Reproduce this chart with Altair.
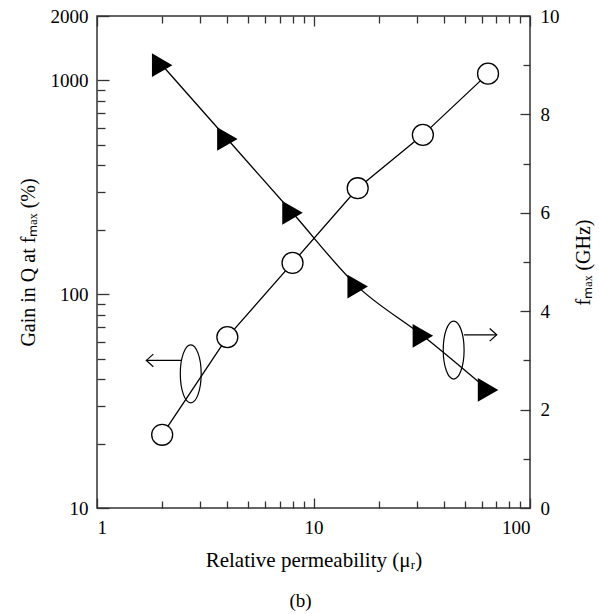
import altair as alt
import pandas as pd

# ---- data ----
mu_r = [2, 4, 8, 16, 32, 64]
gain_q = [22, 63, 140, 313, 556, 1075]          # left axis (%), open circles
f_max = [9.0, 7.5, 6.0, 4.5, 3.5, 2.4]          # right axis (GHz), filled triangles

x_major = [1, 10, 100]
x_minor = [2, 3, 4, 5, 6, 7, 8, 9, 20, 30, 40, 50, 60, 70, 80, 90]
yl_major = [10, 100, 1000, 2000]
yl_minor = [20, 30, 40, 50, 60, 70, 80, 90, 200, 300, 400, 500, 600, 700, 800, 900]
yr_major = [0, 2, 4, 6, 8, 10]
yr_minor = [1, 3, 5, 7, 9]

# annotation markers (ellipse + arrow) in data coordinates
ell_left_x, ell_left_y = [2.71], [42.4]
arr_left_x, arr_left_x2, arr_left_y = [2.46], [1.69], [49.0]
ell_right_x, ell_right_y = [44.4], [3.21]
arr_right_x, arr_right_x2, arr_right_y = [49.6], [70.2], [3.52]

FONT = "Liberation Serif"

df = pd.DataFrame({"mu": mu_r, "gain": gain_q, "fmax": f_max})

xscale = alt.Scale(type="log", domain=[1, 100])
yl_scale = alt.Scale(type="log", domain=[10, 2000])
yr_scale = alt.Scale(domain=[0, 10], nice=False)

# inward ticks: axis pulled into the plot by its own tick length
x_bottom_major = alt.Axis(
    orient="bottom", values=x_major, format="d",
    offset=-10, tickSize=10, domain=False, labelPadding=10, grid=False,
    title="Relative permeability (μᵣ)", titlePadding=12, titleFontSize=21,
)
x_bottom_minor = alt.Axis(
    orient="bottom", values=x_minor, labels=False, offset=-7, tickSize=7,
    domain=False, grid=False, title=None,
)
x_top_major = alt.Axis(
    orient="top", values=x_major, labels=False, offset=-10, tickSize=10,
    domain=False, grid=False, title=None,
)
x_top_minor = alt.Axis(
    orient="top", values=x_minor, labels=False, offset=-7, tickSize=7,
    domain=False, grid=False, title=None,
)
yl_axis_major = alt.Axis(
    orient="left", values=yl_major, format="d",
    offset=-12, tickSize=12, domain=False, labelPadding=9, grid=False,
    title="Gain in Q at fₘₐₓ (%)", titlePadding=12,
)
yl_axis_minor = alt.Axis(
    orient="left", values=yl_minor, labels=False, offset=-8, tickSize=8,
    domain=False, grid=False, title=None,
)
yr_axis_major = alt.Axis(
    orient="right", values=yr_major, format="d",
    offset=-10, tickSize=10, domain=False, labelPadding=10, grid=False,
    title="fₘₐₓ (GHz)", titleAngle=270, titlePadding=34,
)
yr_axis_minor = alt.Axis(
    orient="right", values=yr_minor, labels=False, offset=-7, tickSize=7,
    domain=False, grid=False, title=None,
)

def xx(field, axis=None):
    return alt.X(field, scale=xscale, axis=axis)

ELLIPSE = "M -0.36 0 A 0.36 1 0 1 0 0.36 0 A 0.36 1 0 1 0 -0.36 0 Z"

# ---- gain in Q (left axis) ----
gain_line = alt.Chart(df).mark_line(color="black", strokeWidth=1.3).encode(
    x=xx("mu:Q", x_bottom_major),
    y=alt.Y("gain:Q", scale=yl_scale, axis=yl_axis_major),
)
gain_pts = alt.Chart(df).mark_point(
    shape="circle", size=440, filled=True, fill="white", stroke="black",
    strokeWidth=1.3, opacity=1,
).encode(x=xx("mu:Q", x_bottom_minor),
         y=alt.Y("gain:Q", scale=yl_scale, axis=yl_axis_minor))

ell_l = alt.Chart(pd.DataFrame({"x": ell_left_x, "y": ell_left_y})).mark_point(
    shape=ELLIPSE, size=3364, filled=False, stroke="black", strokeWidth=1.2, opacity=1,
).encode(x=xx("x:Q"), y=alt.Y("y:Q", scale=yl_scale, axis=None))
arr_l = alt.Chart(pd.DataFrame({"x": arr_left_x, "x2": arr_left_x2, "y": arr_left_y})).mark_rule(
    color="black", strokeWidth=1.2,
).encode(x=xx("x:Q"), x2="x2:Q", y=alt.Y("y:Q", scale=yl_scale, axis=None))
head_l = alt.Chart(pd.DataFrame({"x": arr_left_x2, "y": arr_left_y})).mark_point(
    shape="M 1 -0.9 L 0 0 L 1 0.9", size=196, filled=False, stroke="black",
    strokeWidth=1.2, opacity=1,
).encode(x=xx("x:Q"), y=alt.Y("y:Q", scale=yl_scale, axis=None))

# ---- f_max (right axis) ----
f_line = alt.Chart(df).mark_line(color="black", strokeWidth=1.3, interpolate="monotone").encode(
    x=xx("mu:Q", x_top_major),
    y=alt.Y("fmax:Q", scale=yr_scale, axis=yr_axis_major),
)
f_pts = alt.Chart(df).mark_point(
    shape="triangle-right", size=560, filled=True, color="black", opacity=1,
).encode(x=xx("mu:Q", x_top_minor),
         y=alt.Y("fmax:Q", scale=yr_scale, axis=yr_axis_minor))

ell_r = alt.Chart(pd.DataFrame({"x": ell_right_x, "y": ell_right_y})).mark_point(
    shape=ELLIPSE, size=3364, filled=False, stroke="black", strokeWidth=1.2, opacity=1,
).encode(x=xx("x:Q"), y=alt.Y("y:Q", scale=yr_scale, axis=None))
arr_r = alt.Chart(pd.DataFrame({"x": arr_right_x, "x2": arr_right_x2, "y": arr_right_y})).mark_rule(
    color="black", strokeWidth=1.2,
).encode(x=xx("x:Q"), x2="x2:Q", y=alt.Y("y:Q", scale=yr_scale, axis=None))
head_r = alt.Chart(pd.DataFrame({"x": arr_right_x2, "y": arr_right_y})).mark_point(
    shape="M -1 -0.9 L 0 0 L -1 0.9", size=196, filled=False, stroke="black",
    strokeWidth=1.2, opacity=1,
).encode(x=xx("x:Q"), y=alt.Y("y:Q", scale=yr_scale, axis=None))

chart = alt.layer(
    gain_line, gain_pts, ell_l, arr_l, head_l,
    f_line, f_pts, ell_r, arr_r, head_r,
).resolve_scale(y="independent").resolve_axis(x="independent", y="independent").properties(
    width=433, height=492,
    autosize=alt.AutoSizeParams(type="none"),
    padding={"left": 97, "top": 16, "right": 69, "bottom": 106},
    background="white",
    title=alt.TitleParams(text="(b)", orient="bottom", anchor="middle",
                          font=FONT, fontSize=19, fontWeight="normal",
                          color="black", offset=22, dx=-13),
).configure_view(
    stroke="#333333", strokeWidth=1.5,
).configure_axis(
    labelFont=FONT, titleFont=FONT, labelFontSize=19, titleFontSize=20,
    labelColor="black", titleColor="black", tickColor="#333333",
    tickWidth=1.3, titleFontWeight="normal",
)

chart.save("out.html", embed_options={"renderer": "svg", "actions": False})
